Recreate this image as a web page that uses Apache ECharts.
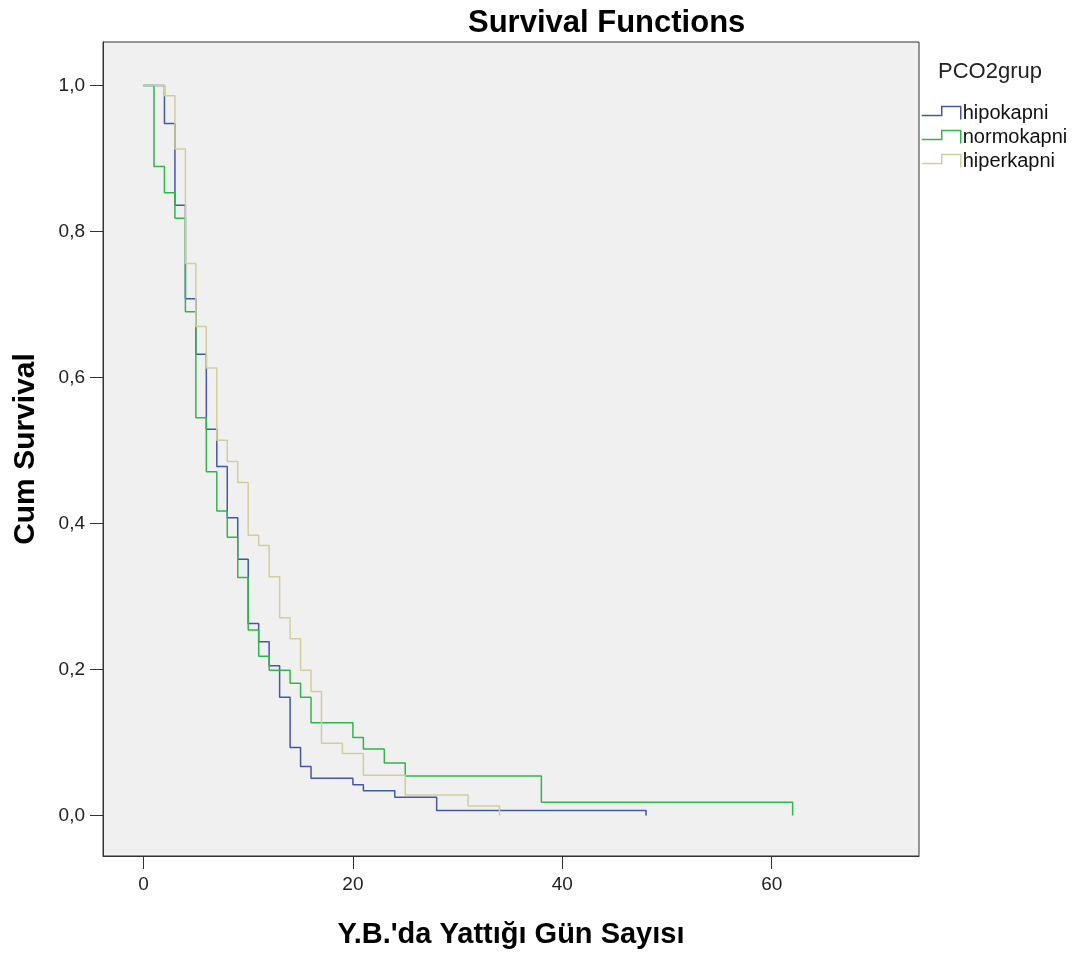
<!DOCTYPE html>
<html>
<head>
<meta charset="utf-8">
<script src="https://cdn.jsdelivr.net/npm/echarts@6/dist/echarts.min.js"></script>
<style>html,body{margin:0;padding:0;background:#fff;}#c{width:1087px;height:954px;}</style>
</head>
<body>
<div id="c"></div>
<script>
const chartTitle = 'Survival Functions';
const xName = "Y.B.'da Yattığı Gün Sayısı";
const yName = 'Cum Survival';
const legendTitle = 'PCO2grup';
const groupNames = ['hipokapni', 'normokapni', 'hiperkapni'];
const xTicks = [0, 20, 40, 60];
const yTicks = [0, 0.2, 0.4, 0.6, 0.8, 1.0];

const hipoTime = [0, 2, 3, 4, 5, 6, 7, 8, 9, 10, 11, 12, 13, 14, 15, 16, 20, 21, 24, 28, 48];
const hipoSurv = [1.0, 0.948, 0.836, 0.708, 0.632, 0.529, 0.478, 0.408, 0.351, 0.263, 0.238, 0.205, 0.162, 0.093, 0.067, 0.051, 0.042, 0.034, 0.025, 0.007, 0.0];

const normoTime = [0, 1, 2, 3, 4, 5, 6, 7, 8, 9, 10, 11, 12, 14, 15, 16, 20, 21, 23, 25, 38, 62];
const normoSurv = [1.0, 0.889, 0.853, 0.818, 0.690, 0.545, 0.471, 0.417, 0.381, 0.326, 0.254, 0.218, 0.199, 0.181, 0.162, 0.127, 0.107, 0.091, 0.072, 0.054, 0.018, 0.0];

const hiperTime = [0, 2, 3, 4, 5, 6, 7, 8, 9, 10, 11, 12, 13, 14, 15, 16, 17, 19, 21, 25, 31, 34];
const hiperSurv = [1.0, 0.986, 0.913, 0.756, 0.670, 0.613, 0.514, 0.485, 0.456, 0.384, 0.370, 0.327, 0.271, 0.242, 0.199, 0.170, 0.099, 0.085, 0.055, 0.028, 0.013, 0.0];

const colors = ['#3e58ac', '#2eb848', '#d3ce97'];
const zip = (t, s) => t.map((v, i) => [v, s[i]]);
const groupData = [zip(hipoTime, hipoSurv), zip(normoTime, normoSurv), zip(hiperTime, hiperSurv)];

const chart = echarts.init(document.getElementById('c'), null, {renderer: 'canvas'});
const font = 'Arial, "Liberation Sans", sans-serif';
const stepIcon = 'path://M0,9 L20,9 L20,0 L39,0 L39,13';

chart.setOption({
  animation: false,
  backgroundColor: '#ffffff',
  title: {
    text: chartTitle,
    left: 463, top: 3,
    textStyle: {fontFamily: font, fontSize: 31, fontWeight: 'bold', color: '#000'}
  },
  grid: {
    left: 103, right: 168, top: 42, bottom: 98,
    show: true, backgroundColor: '#f0f0f0', borderColor: '#333', borderWidth: 1
  },
  legend: {
    orient: 'vertical', left: 921, top: 103, padding: 0,
    itemWidth: 39, itemHeight: 13, itemGap: 4,
    icon: stepIcon,
    textStyle: {fontFamily: font, fontSize: 20, color: '#111', padding: [0, 0, 0, -3]},
    data: groupNames.map((n, i) => ({
      name: n,
      itemStyle: {color: 'rgba(0,0,0,0)', borderColor: colors[i], borderWidth: 1.5}
    }))
  },
  graphic: [{
    type: 'text', left: 938, top: 61,
    style: {text: legendTitle, fontFamily: font, fontSize: 22, fill: '#222'}
  }],
  xAxis: {
    type: 'value', min: -3.87, max: 74.07,
    name: xName, nameLocation: 'middle', nameGap: 64,
    nameTextStyle: {fontFamily: font, fontSize: 29, fontWeight: 'bold', color: '#000'},
    axisLine: {show: true, onZero: false, lineStyle: {color: '#333', width: 1}},
    axisTick: {show: true, length: 13, customValues: xTicks, lineStyle: {color: '#333'}},
    axisLabel: {customValues: xTicks, fontFamily: font, fontSize: 19, color: '#222', margin: 19},
    splitLine: {show: false}
  },
  yAxis: {
    type: 'value', min: -0.0555, max: 1.0596,
    name: yName, nameLocation: 'middle', nameGap: 62, nameRotate: 90,
    nameTextStyle: {fontFamily: font, fontSize: 30, fontWeight: 'bold', color: '#000'},
    axisLine: {show: true, onZero: false, lineStyle: {color: '#333', width: 1}},
    axisTick: {show: true, length: 13, customValues: yTicks, lineStyle: {color: '#333'}},
    axisLabel: {customValues: yTicks, fontFamily: font, fontSize: 19, color: '#222', margin: 18,
      formatter: v => v.toFixed(1).replace('.', ',')},
    splitLine: {show: false}
  },
  series: groupNames.map((n, i) => ({
    name: n, type: 'line', step: 'end', data: groupData[i],
    showSymbol: false, symbol: 'none',
    lineStyle: {color: colors[i], width: 1.5},
    itemStyle: {color: colors[i]}
  }))
});
</script>
</body>
</html>
